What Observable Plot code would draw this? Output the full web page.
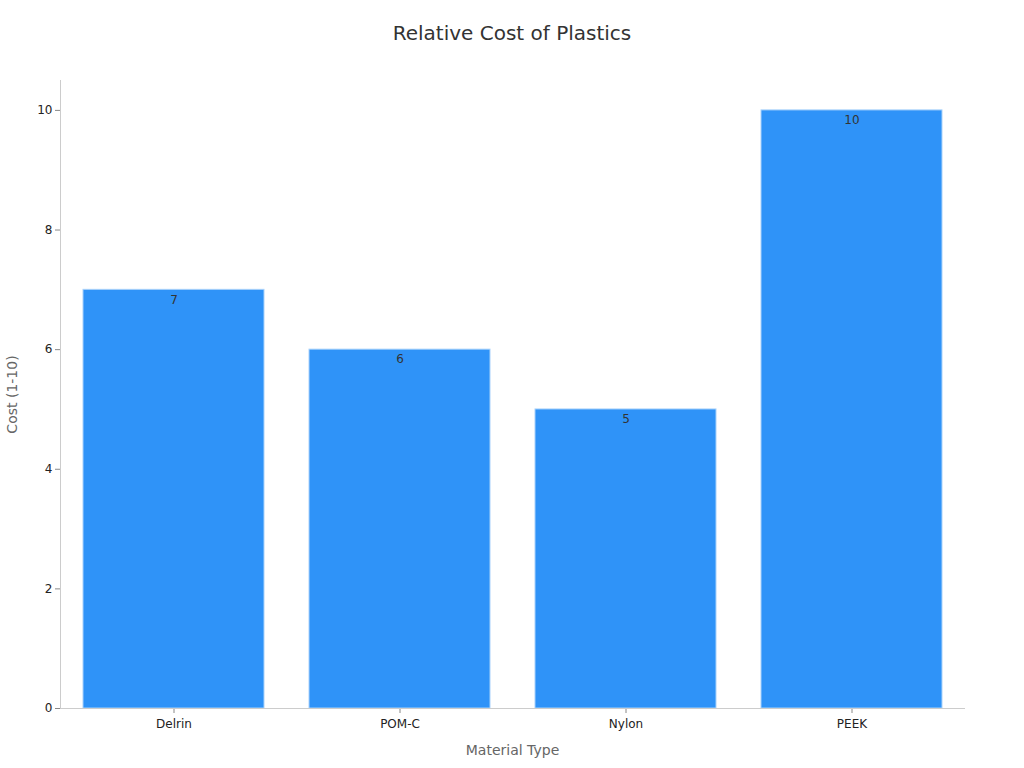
<!DOCTYPE html>
<html>
<head>
<meta charset="utf-8">
<script src="https://cdn.jsdelivr.net/npm/d3@7"></script>
<script src="https://cdn.jsdelivr.net/npm/@observablehq/plot@0.6"></script>
<style>
  html, body { margin: 0; padding: 0; background: #fff; }
  body { width: 1024px; height: 768px; overflow: hidden; font-family: "DejaVu Sans", sans-serif; }
  #title { height: 66px; line-height: 66px; text-align: center; font-size: 20px; color: #333; }
  #chart svg { display: block; }
</style>
</head>
<body>
<div id="title">Relative Cost of Plastics</div>
<div id="chart"></div>
<script>
const materials = ["Delrin", "POM-C", "Nylon", "PEEK"];
const costs = [7, 6, 5, 10];
const yTicks = [0, 2, 4, 6, 8, 10];

const data = materials.map((m, i) => ({material: m, cost: costs[i]}));

const chart = Plot.plot({
  width: 1024,
  height: 702,
  marginTop: 14,
  marginBottom: 60,
  marginLeft: 60,
  marginRight: 60,
  style: {fontFamily: "DejaVu Sans, sans-serif", fontSize: "12px", color: "#333", background: "#fff"},
  x: {domain: materials, paddingInner: 0.2, paddingOuter: 0.1, label: null},
  y: {domain: [0, 10.5], label: null},
  marks: [
    Plot.barY(data, {x: "material", y: "cost", fill: "#2f93f8", stroke: "#a9d2fb", strokeWidth: 1}),
    Plot.text(data, {x: "material", y: "cost", text: d => String(d.cost), dy: 10, fill: "#333", fontSize: 12}),
    Plot.axisY({ticks: yTicks, tickSize: 5, stroke: "#888", tickPadding: 3, fontSize: 12, fill: "#222", label: null}),
    Plot.axisX({tickSize: 5, stroke: "#888", tickPadding: 6, fontSize: 12, fill: "#222", label: null}),
    Plot.frame({anchor: "left", stroke: "#ccc"}),
    Plot.frame({anchor: "bottom", stroke: "#ccc"}),
    Plot.text(["Material Type"], {frameAnchor: "bottom", dy: 46, fontSize: 14, fill: "#666"}),
    Plot.text(["Cost (1-10)"], {frameAnchor: "left", dx: -48, rotate: -90, textAnchor: "middle", fontSize: 14, fill: "#666"})
  ]
});
document.getElementById("chart").appendChild(chart);
</script>
</body>
</html>
